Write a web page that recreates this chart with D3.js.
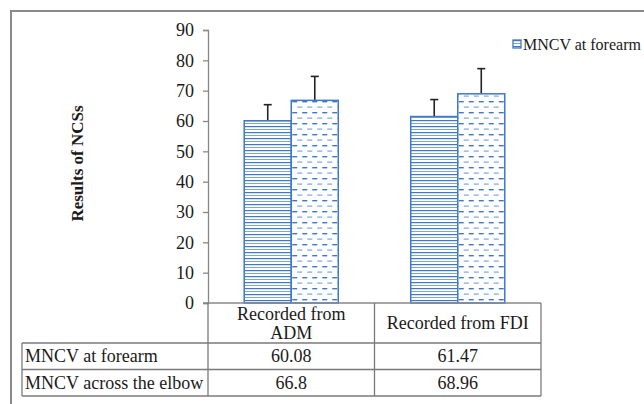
<!DOCTYPE html>
<html>
<head>
<meta charset="utf-8">
<script src="https://cdn.jsdelivr.net/npm/d3@7/dist/d3.min.js"></script>
<style>
  body { margin: 0; background: #fff; }
  svg text { font-family: "Liberation Serif", "DejaVu Serif", serif !important; fill: #1a1a1a; }
</style>
</head>
<body>
<div id="chart"></div>
<script>
// data
const categories = ["Recorded from ADM", "Recorded from FDI"];
const categoryLines = [["Recorded from", "ADM"], ["Recorded from FDI"]];
const seriesNames = ["MNCV at forearm", "MNCV across the elbow"];
const forearm = [60.08, 61.47];
const elbow = [66.8, 68.96];
const forearmErr = [5.3, 5.6];
const elbowErr = [7.9, 8.3];
const yTicks = [0, 10, 20, 30, 40, 50, 60, 70, 80, 90];

const W = 644, H = 404;
const margin = {top: 30, left: 208, right: 103, bottom: 101};
const plotH = H - margin.top - margin.bottom;
const tableLeft = 22;
const rowH = [40, 26.5, 26.5];
const fs = "18px";

const svg = d3.select("#chart").append("svg")
    .attr("width", W).attr("height", H);

// patterns
const defs = svg.append("defs");
let p1 = defs.append("pattern").attr("id", "hlines")
    .attr("patternUnits", "userSpaceOnUse").attr("width", 6).attr("height", 6);
p1.append("rect").attr("width", 6).attr("height", 6).attr("fill", "#fff");
p1.append("rect").attr("y", 0).attr("width", 6).attr("height", 1.2).attr("fill", "#3f78c9");
p1.append("rect").attr("y", 3).attr("width", 6).attr("height", 1).attr("fill", "#7ea6dc");

let p2 = defs.append("pattern").attr("id", "dashes")
    .attr("patternUnits", "userSpaceOnUse").attr("width", 10).attr("height", 11);
p2.append("rect").attr("width", 10).attr("height", 11).attr("fill", "#fff");
p2.append("rect").attr("x", 1).attr("y", 2).attr("width", 5).attr("height", 1.4).attr("fill", "#3f78c9");
p2.append("rect").attr("x", 6).attr("y", 7.5).attr("width", 5).attr("height", 1.2).attr("fill", "#7ea6dc");
p2.append("rect").attr("x", -4).attr("y", 7.5).attr("width", 5).attr("height", 1.2).attr("fill", "#7ea6dc");

// outer frame
svg.append("path")
    .attr("d", "M11," + H + "V11H" + W)
    .attr("fill", "none").attr("stroke", "#8a8a8a").attr("stroke-width", 2);

let x = d3.scaleBand()
    .domain(categories)
    .range([margin.left, 541]);

let xSub = d3.scaleBand()
    .domain(seriesNames)
    .range([0, x.bandwidth()])
    .paddingInner(0)
    .paddingOuter(0.77);

let y = d3.scaleLinear()
    .domain([0, 90])
    .range([margin.top + plotH, margin.top]);

// y axis
let yaxis = svg.append("g")
    .attr("transform", "translate(" + margin.left + ",0)")
    .call(d3.axisLeft(y).tickValues(yTicks).tickSize(5).tickPadding(9).tickFormat(d3.format("d")));
yaxis.select(".domain").attr("stroke", "#888").attr("stroke-width", 1.3);
yaxis.selectAll(".tick line").attr("stroke", "#888").attr("stroke-width", 1.3);
yaxis.selectAll(".tick text")
    .style("font-size", fs).attr("fill", "#1a1a1a");
yaxis.attr("font-family", null).attr("font-size", null);

svg.append("text")
    .text("Results of NCSs")
    .attr("transform", "translate(83," + (margin.top + plotH / 2 - 3) + ")rotate(-90)")
    .attr("text-anchor", "middle")
    .style("font-size", "17px").style("font-weight", "bold");

// bars
let barData = [];
categories.forEach(function (c, i) {
    barData.push({cat: c, key: seriesNames[0], value: forearm[i], err: forearmErr[i], fill: "url(#hlines)"});
    barData.push({cat: c, key: seriesNames[1], value: elbow[i], err: elbowErr[i], fill: "url(#dashes)"});
});

let bars = svg.append("g").selectAll("g")
    .data(barData)
    .join("g")
    .attr("transform", d => `translate(${x(d.cat) + xSub(d.key)},0)`);

bars.append("line")
    .attr("x1", xSub.bandwidth() / 2).attr("x2", xSub.bandwidth() / 2)
    .attr("y1", d => y(d.value)).attr("y2", d => y(d.value + d.err))
    .attr("stroke", "#222").attr("stroke-width", 1.6);
bars.append("line")
    .attr("x1", xSub.bandwidth() / 2 - 4).attr("x2", xSub.bandwidth() / 2 + 4)
    .attr("y1", d => y(d.value + d.err)).attr("y2", d => y(d.value + d.err))
    .attr("stroke", "#222").attr("stroke-width", 1.6);

bars.append("rect")
    .attr("x", 0)
    .attr("y", d => y(d.value))
    .attr("width", xSub.bandwidth())
    .attr("height", d => y(0) - y(d.value))
    .attr("fill", d => d.fill)
    .attr("stroke", "#3f78c9").attr("stroke-width", 1.5);

// data table
let tg = svg.append("g").attr("stroke", "#7a7a7a").attr("stroke-width", 1.3);
let y0 = y(0);
let r1 = y0 + rowH[0], r2 = r1 + rowH[1], r3 = r2 + rowH[2];
tg.append("line").attr("x1", margin.left - 5).attr("x2", 541).attr("y1", y0).attr("y2", y0).attr("stroke", "#888");
[r1, r2, r3].forEach(function (ry) {
    tg.append("line").attr("x1", tableLeft).attr("x2", 541).attr("y1", ry).attr("y2", ry);
});
tg.append("line").attr("x1", tableLeft).attr("x2", tableLeft).attr("y1", r1).attr("y2", r3);
[margin.left, x(categories[1]), 541].forEach(function (vx) {
    tg.append("line").attr("x1", vx).attr("x2", vx).attr("y1", y0).attr("y2", r3);
});

categories.forEach(function (c, i) {
    let cx = x(c) + x.bandwidth() / 2;
    let lines = categoryLines[i];
    let mid = y0 + rowH[0] / 2;
    lines.forEach(function (l, j) {
        svg.append("text").text(l)
            .attr("x", cx)
            .attr("y", mid + (j - (lines.length - 1) / 2) * 19 + 6)
            .attr("text-anchor", "middle")
            .style("font-size", fs);
    });
    svg.append("text").text(forearm[i]).attr("x", cx).attr("y", r1 + rowH[1] / 2 + 6)
        .attr("text-anchor", "middle").style("font-size", fs);
    svg.append("text").text(elbow[i]).attr("x", cx).attr("y", r2 + rowH[2] / 2 + 6)
        .attr("text-anchor", "middle").style("font-size", fs);
});
svg.append("text").text(seriesNames[0]).attr("x", tableLeft + 3).attr("y", r1 + rowH[1] / 2 + 6)
    .style("font-size", fs);
svg.append("text").text(seriesNames[1]).attr("x", tableLeft + 3).attr("y", r2 + rowH[2] / 2 + 6)
    .style("font-size", fs);

// legend, kept just inside the right edge
let lg = svg.append("g").attr("transform", "translate(513,40)");
lg.append("rect").attr("width", 8).attr("height", 8)
    .attr("fill", "url(#hlines)").attr("stroke", "#3f78c9").attr("stroke-width", 1.3);
lg.append("text").text(seriesNames[0]).attr("x", 10).attr("y", 10).style("font-size", "16px");
</script>
</body>
</html>
